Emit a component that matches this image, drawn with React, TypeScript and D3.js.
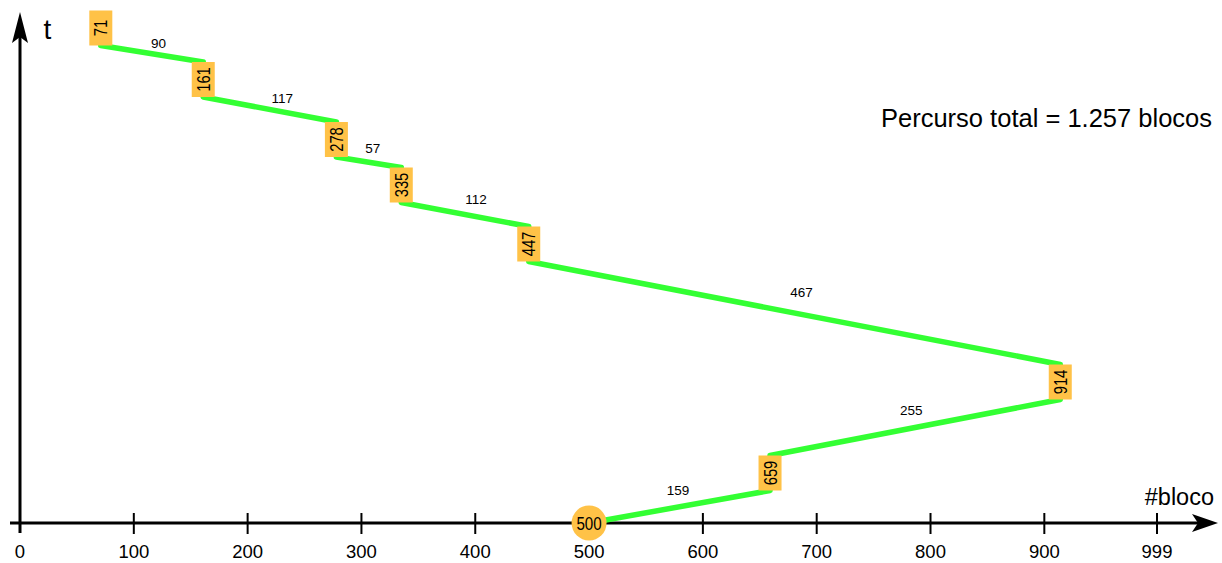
import React from "react";
import * as d3 from "d3";

const requests = [500, 659, 914, 447, 335, 278, 161, 71];
const times = [0, 50, 141, 279, 338, 383.5, 443.5, 495];
const distances = [159, 255, 467, 112, 57, 117, 90];
const tickValues = [0, 100, 200, 300, 400, 500, 600, 700, 800, 900, 999];
const totalLabel = "Percurso total = 1.257 blocos";
const xLabel = "#bloco";
const yLabel = "t";

// layout: label offsets from segment midpoints (label centre)
const labelDx = [-1.5, -4, 7, 11, 4, 12.5, 6.5];
const labelDy = [-17, -17.5, -21.5, -16, -14, -11.5, -11];

const W = 1222;
const H = 563;
const BOX_W = 23;
const BOX_H = 35;
const ORANGE = "#FFC247";
const GREEN = "#33FF33";
const SANS = "'Liberation Sans', Arial, Helvetica, sans-serif";

export default function App() {
  const x = d3.scaleLinear().domain([0, 999]).range([20, 1157]);
  const y = d3.scaleLinear().domain([0, 510]).range([523, 13]);
  const axisY = y(0);
  const axisX = x(0);
  const half = BOX_H / 2;

  const segs = distances.map((d, i) => {
    const x0 = x(requests[i]);
    const y0 = i === 0 ? y(times[0]) : y(times[i]) - half;
    const x1 = x(requests[i + 1]);
    const y1 = y(times[i + 1]) + half;
    return { x0, y0, x1, y1, d };
  });

  const line = d3.line<[number, number]>();

  return (
    <svg width={W} height={H} style={{ position: "absolute", left: 0, top: 0, background: "#fff" }}>
      {/* x axis */}
      <line x1={10} y1={axisY} x2={1200} y2={axisY} stroke="#000" strokeWidth={3} />
      <path d={`M1218,${axisY} L1192,${axisY - 9} L1198,${axisY} L1192,${axisY + 9} Z`} fill="#000" />
      {tickValues.map((t) => (
        <g key={t}>
          {t !== 0 && (
            <line x1={x(t)} x2={x(t)} y1={axisY - 10} y2={axisY + 11} stroke="#000" strokeWidth={2} />
          )}
          <text x={x(t)} y={558} textAnchor="middle" fontFamily={SANS} fontSize={18.5} fill="#000">
            {t}
          </text>
        </g>
      ))}
      {/* y axis */}
      <line x1={axisX} y1={axisY + 10} x2={axisX} y2={30} stroke="#000" strokeWidth={3} />
      <path d={`M${axisX},12 L${axisX - 8},43 L${axisX},37 L${axisX + 8},43 Z`} fill="#000" />
      <text x={47.5} y={39} textAnchor="middle" fontFamily={SANS} fontSize={28} fill="#000">
        {yLabel}
      </text>
      <text x={1214} y={505} textAnchor="end" fontFamily={SANS} fontSize={23.5} fill="#000">
        {xLabel}
      </text>
      <text x={1212} y={127} textAnchor="end" fontFamily={SANS} fontSize={25.5} fill="#000">
        {totalLabel}
      </text>

      {/* segments */}
      {segs.map((s, i) => (
        <path
          key={"s" + i}
          d={line([[s.x0, s.y0], [s.x1, s.y1]]) || ""}
          stroke={GREEN}
          strokeWidth={5.5}
          strokeLinecap="round"
          fill="none"
        />
      ))}
      {segs.map((s, i) => (
        <text
          key={"d" + i}
          x={(s.x0 + s.x1) / 2 + labelDx[i]}
          y={(s.y0 + s.y1) / 2 + labelDy[i] + 5}
          textAnchor="middle"
          fontFamily={SANS}
          fontSize={13.5}
          fill="#000"
        >
          {s.d}
        </text>
      ))}

      {/* start circle */}
      <circle cx={x(requests[0])} cy={y(times[0])} r={17.5} fill={ORANGE} />
      <text
        transform={`translate(${x(requests[0])},${y(times[0]) + 6.5}) scale(0.82,1)`}
        textAnchor="middle"
        fontFamily={SANS}
        fontSize={18.5}
        fill="#000"
      >
        {requests[0]}
      </text>

      {/* boxes */}
      {requests.slice(1).map((r, k) => {
        const i = k + 1;
        const cx = x(r);
        const cy = y(times[i]);
        return (
          <g key={"b" + i}>
            <rect x={cx - BOX_W / 2} y={cy - half} width={BOX_W} height={BOX_H} fill={ORANGE} />
            <text
              transform={`translate(${cx + 6.5},${cy}) rotate(-90) scale(0.78,1)`}
              textAnchor="middle"
              fontFamily={SANS}
              fontSize={19}
              fill="#000"
            >
              {r}
            </text>
          </g>
        );
      })}
    </svg>
  );
}
